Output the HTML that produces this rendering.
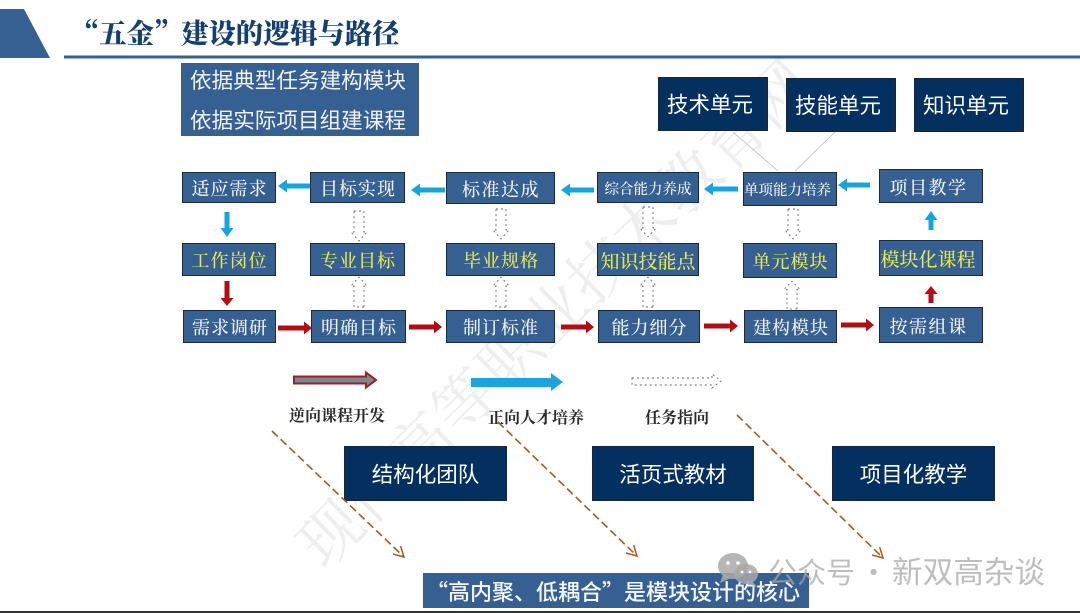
<!DOCTYPE html>
<html lang="zh-CN">
<head>
<meta charset="utf-8">
<style>
html,body{margin:0;padding:0;background:#fff}
#p{position:relative;width:1080px;height:613px;overflow:hidden;background:#fff;font-family:"Noto Sans CJK SC","Liberation Sans",sans-serif}
#q{position:absolute;left:0;top:0;width:1080px;height:613px;filter:blur(.35px)}
svg{position:absolute;left:0;top:0}
.b{position:absolute;box-sizing:border-box;display:flex;align-items:center;justify-content:center;white-space:nowrap;color:#fff;text-align:center}
.f{background:#376092;border:1.5px solid #1c2a40;font-family:"Noto Serif CJK SC","Liberation Serif",serif;font-size:18px;letter-spacing:1px;color:#f2f4f8;font-weight:500;padding-top:1px}
.f span{margin-right:-1px}
.w{letter-spacing:1.5px}
.y{color:#e6e84e}
.n{background:#03305f;border:1.5px solid #1a2436;font-size:21.5px}
.s{padding-right:6px;padding-bottom:2px}
.l{position:absolute;white-space:nowrap;font-family:"Noto Serif CJK SC","Liberation Serif",serif;font-weight:700;font-size:16px;color:#2a2a2a}
#t{position:absolute;left:72px;top:13px;font-family:"Noto Serif CJK SC","Liberation Serif",serif;font-weight:900;font-size:27.3px;line-height:38px;color:#143f6e;white-space:nowrap}
#wm{position:absolute;left:768px;top:548px;font-size:29px;line-height:44px;color:rgba(165,165,165,.72);white-space:nowrap}
</style>
</head>
<body>
<div id="p">
<div id="q">
<svg width="1080" height="613" viewBox="0 0 1080 613">
  <text x="324" y="571" transform="rotate(-44.5 324 571)" font-family="'Noto Serif CJK SC',serif" font-size="62" letter-spacing=".8" fill="#eeeeee">现代高等职业技术教育网</text>
  <polygon points="0,9 24,9 50,58 0,58" fill="#376092"/>
  <rect x="64" y="55.5" width="1016" height="3" fill="#376092"/>
  <rect x="0" y="611" width="1080" height="2" fill="#333"/>
  <line x1="733" y1="132" x2="778" y2="171" stroke="#bbb" stroke-width=".8"/>
  <line x1="835" y1="132" x2="795" y2="171" stroke="#bbb" stroke-width=".8"/>
</svg>

<div id="t">“五金”建设的逻辑与路径</div>

<div class="b" style="left:181px;top:63px;width:238px;height:73px;background:#376092;color:#f1f3f7">
  <div style="position:absolute;left:9px;top:-3px;font-size:21.6px;line-height:40px;text-align:left">依据典型任务建构模块<br>依据实际项目组建课程</div>
</div>

<div class="b n s" style="left:658px;top:77px;width:110px;height:54px">技术单元</div>
<div class="b n s" style="left:786px;top:78px;width:110px;height:54px">技能单元</div>
<div class="b n s" style="left:914px;top:78px;width:110px;height:54px">知识单元</div>

<div class="b f" style="left:182px;top:172px;width:94px;height:31px"><span>适应需求</span></div>
<div class="b f" style="left:310px;top:172px;width:95px;height:31px"><span>目标实现</span></div>
<div class="b f w" style="left:446px;top:172px;width:109px;height:32px"><span>标准达成</span></div>
<div class="b f" style="left:597px;top:172px;width:102px;height:31px;font-size:14.5px;letter-spacing:0"><span style="margin:0">综合能力养成</span></div>
<div class="b f" style="left:743px;top:172px;width:94px;height:34px;font-size:14.5px;letter-spacing:0;padding-right:5px"><span style="margin:0">单项能力培养</span></div>
<div class="b f w" style="left:879px;top:169px;width:104px;height:34px;padding-right:6px"><span>项目教学</span></div>

<div class="b f y" style="left:182px;top:243px;width:94px;height:33px"><span>工作岗位</span></div>
<div class="b f y" style="left:310px;top:243px;width:95px;height:33px"><span>专业目标</span></div>
<div class="b f y" style="left:446px;top:243px;width:109px;height:33px"><span>毕业规格</span></div>
<div class="b f y" style="left:597px;top:243px;width:102px;height:33px;font-size:19px;letter-spacing:0"><span style="margin:0">知识技能点</span></div>
<div class="b f y" style="left:743px;top:243px;width:94px;height:35px"><span>单元模块</span></div>
<div class="b f y" style="left:879px;top:240px;width:104px;height:36px;font-size:19px;letter-spacing:0;padding-right:6px"><span style="margin:0">模块化课程</span></div>

<div class="b f" style="left:183px;top:310px;width:93px;height:33px"><span>需求调研</span></div>
<div class="b f" style="left:311px;top:310px;width:95px;height:33px"><span>明确目标</span></div>
<div class="b f" style="left:446px;top:310px;width:109px;height:33px"><span>制订标准</span></div>
<div class="b f" style="left:598px;top:310px;width:102px;height:33px"><span>能力细分</span></div>
<div class="b f" style="left:744px;top:310px;width:93px;height:33px"><span>建构模块</span></div>
<div class="b f w" style="left:879px;top:307px;width:104px;height:36px;padding-right:6px"><span>按需组课</span></div>

<div class="l" style="left:289px;top:403px">逆向课程开发</div>
<div class="l" style="left:488px;top:405px">正向人才培养</div>
<div class="l" style="left:645px;top:405px">任务指向</div>

<div class="b n" style="left:344px;top:446px;width:163px;height:55px">结构化团队</div>
<div class="b n" style="left:592px;top:446px;width:162px;height:55px">活页式教材</div>
<div class="b n" style="left:832px;top:446px;width:163px;height:55px">项目化教学</div>

<div class="b" style="left:423px;top:573px;width:386px;height:35px;background:#376092;font-size:22px;font-weight:500;color:#f4f6fa;padding-right:6px">“高内聚、低耦合”是模块设计的核心</div>

<svg width="1080" height="613" viewBox="0 0 1080 613">
  <defs>
    <marker id="bh" markerUnits="userSpaceOnUse" markerWidth="9" markerHeight="13" refX="0" refY="6.5" orient="auto"><polygon points="0,0 9,6.5 0,13" fill="#14a5dc"/></marker>
    <marker id="rh" markerUnits="userSpaceOnUse" markerWidth="8" markerHeight="13" refX="0" refY="6.5" orient="auto"><polygon points="0,0 8,6.5 0,13" fill="#b30d14"/></marker>
    <marker id="br" markerUnits="userSpaceOnUse" markerWidth="14" markerHeight="14" refX="11" refY="7" orient="auto"><polyline points="1,1.5 11,7 1,12.5" fill="none" stroke="#a8591c" stroke-width="1.5"/></marker>
    <path id="dd" d="M-5,0H5V21H8L0,30L-8,21H-5Z" fill="#fff" stroke="#666" stroke-width=".9" stroke-dasharray="2 3"/>
  </defs>

  <g stroke="#14a5dc" stroke-width="5" fill="none">
    <line x1="310" y1="186" x2="287" y2="186" marker-end="url(#bh)"/>
    <line x1="445" y1="190" x2="420" y2="190" marker-end="url(#bh)"/>
    <line x1="594" y1="190" x2="570" y2="190" marker-end="url(#bh)"/>
    <line x1="738" y1="189" x2="713" y2="189" marker-end="url(#bh)"/>
    <line x1="870" y1="185" x2="847" y2="185" marker-end="url(#bh)"/>
    <line x1="931" y1="230" x2="931" y2="220" marker-end="url(#bh)"/>
    <line x1="227" y1="212" x2="227" y2="228" marker-end="url(#bh)"/>
  </g>
  <g stroke="#b30d14" stroke-width="5" fill="none">
    <line x1="227" y1="281" x2="227" y2="298" marker-end="url(#rh)"/>
    <line x1="278" y1="328" x2="304" y2="328" marker-end="url(#rh)"/>
    <line x1="409" y1="327" x2="434" y2="327" marker-end="url(#rh)"/>
    <line x1="561" y1="327" x2="586" y2="327" marker-end="url(#rh)"/>
    <line x1="704" y1="326" x2="730" y2="326" marker-end="url(#rh)"/>
    <line x1="841" y1="325" x2="866" y2="325" marker-end="url(#rh)"/>
    <line x1="931" y1="303" x2="931" y2="294" marker-end="url(#rh)"/>
  </g>

  <use href="#dd" transform="translate(359 211)"/>
  <use href="#dd" transform="translate(501 209)"/>
  <use href="#dd" transform="translate(648 207)"/>
  <use href="#dd" transform="translate(793 209)"/>
  <use href="#dd" transform="translate(359 307) rotate(180)"/>
  <use href="#dd" transform="translate(501 307) rotate(180)"/>
  <use href="#dd" transform="translate(648 307) rotate(180)"/>
  <use href="#dd" transform="translate(792 309) rotate(180) scale(1 .93)"/>

  <polygon points="294,376.5 366,376.5 366,372.5 376,380 366,387.5 366,383.5 294,383.5" fill="#7a8a8c" stroke="#a01c2c" stroke-width="2"/>
  <polygon points="471,378 551,378 551,373 563,382 551,391 551,387 471,387" fill="#1ea4dc"/>
  <polygon points="632,378 712,378 712,374 721,381 712,388 712,385 632,385" fill="#fff" stroke="#666" stroke-width=".9" stroke-dasharray="2 3"/>

  <g stroke="#a8591c" stroke-width="1.6" stroke-dasharray="8 4" fill="none">
    <line x1="272" y1="431" x2="404" y2="557" marker-end="url(#br)"/>
    <line x1="498" y1="422" x2="637" y2="556" marker-end="url(#br)"/>
    <line x1="737" y1="415" x2="883" y2="558" marker-end="url(#br)"/>
  </g>

  <g fill="#a9a9a9" fill-opacity=".85">
    <ellipse cx="733" cy="566" rx="15" ry="13"/>
    <polygon points="723,574 720,583 731,578"/>
    <ellipse cx="746" cy="574" rx="12" ry="10"/>
    <polygon points="752,581 757,587 746,583"/>
  </g>
  <g fill="#fff">
    <circle cx="728" cy="563" r="1.8"/><circle cx="738" cy="563" r="1.8"/>
    <circle cx="742" cy="572" r="1.4"/><circle cx="750" cy="572" r="1.4"/>
  </g>
</svg>

<div id="wm">公众号<span style="display:inline-block;width:37px;text-align:center">·</span><span style="font-size:30.6px">新双高杂谈</span></div>
</div>
</div>
</body>
</html>
